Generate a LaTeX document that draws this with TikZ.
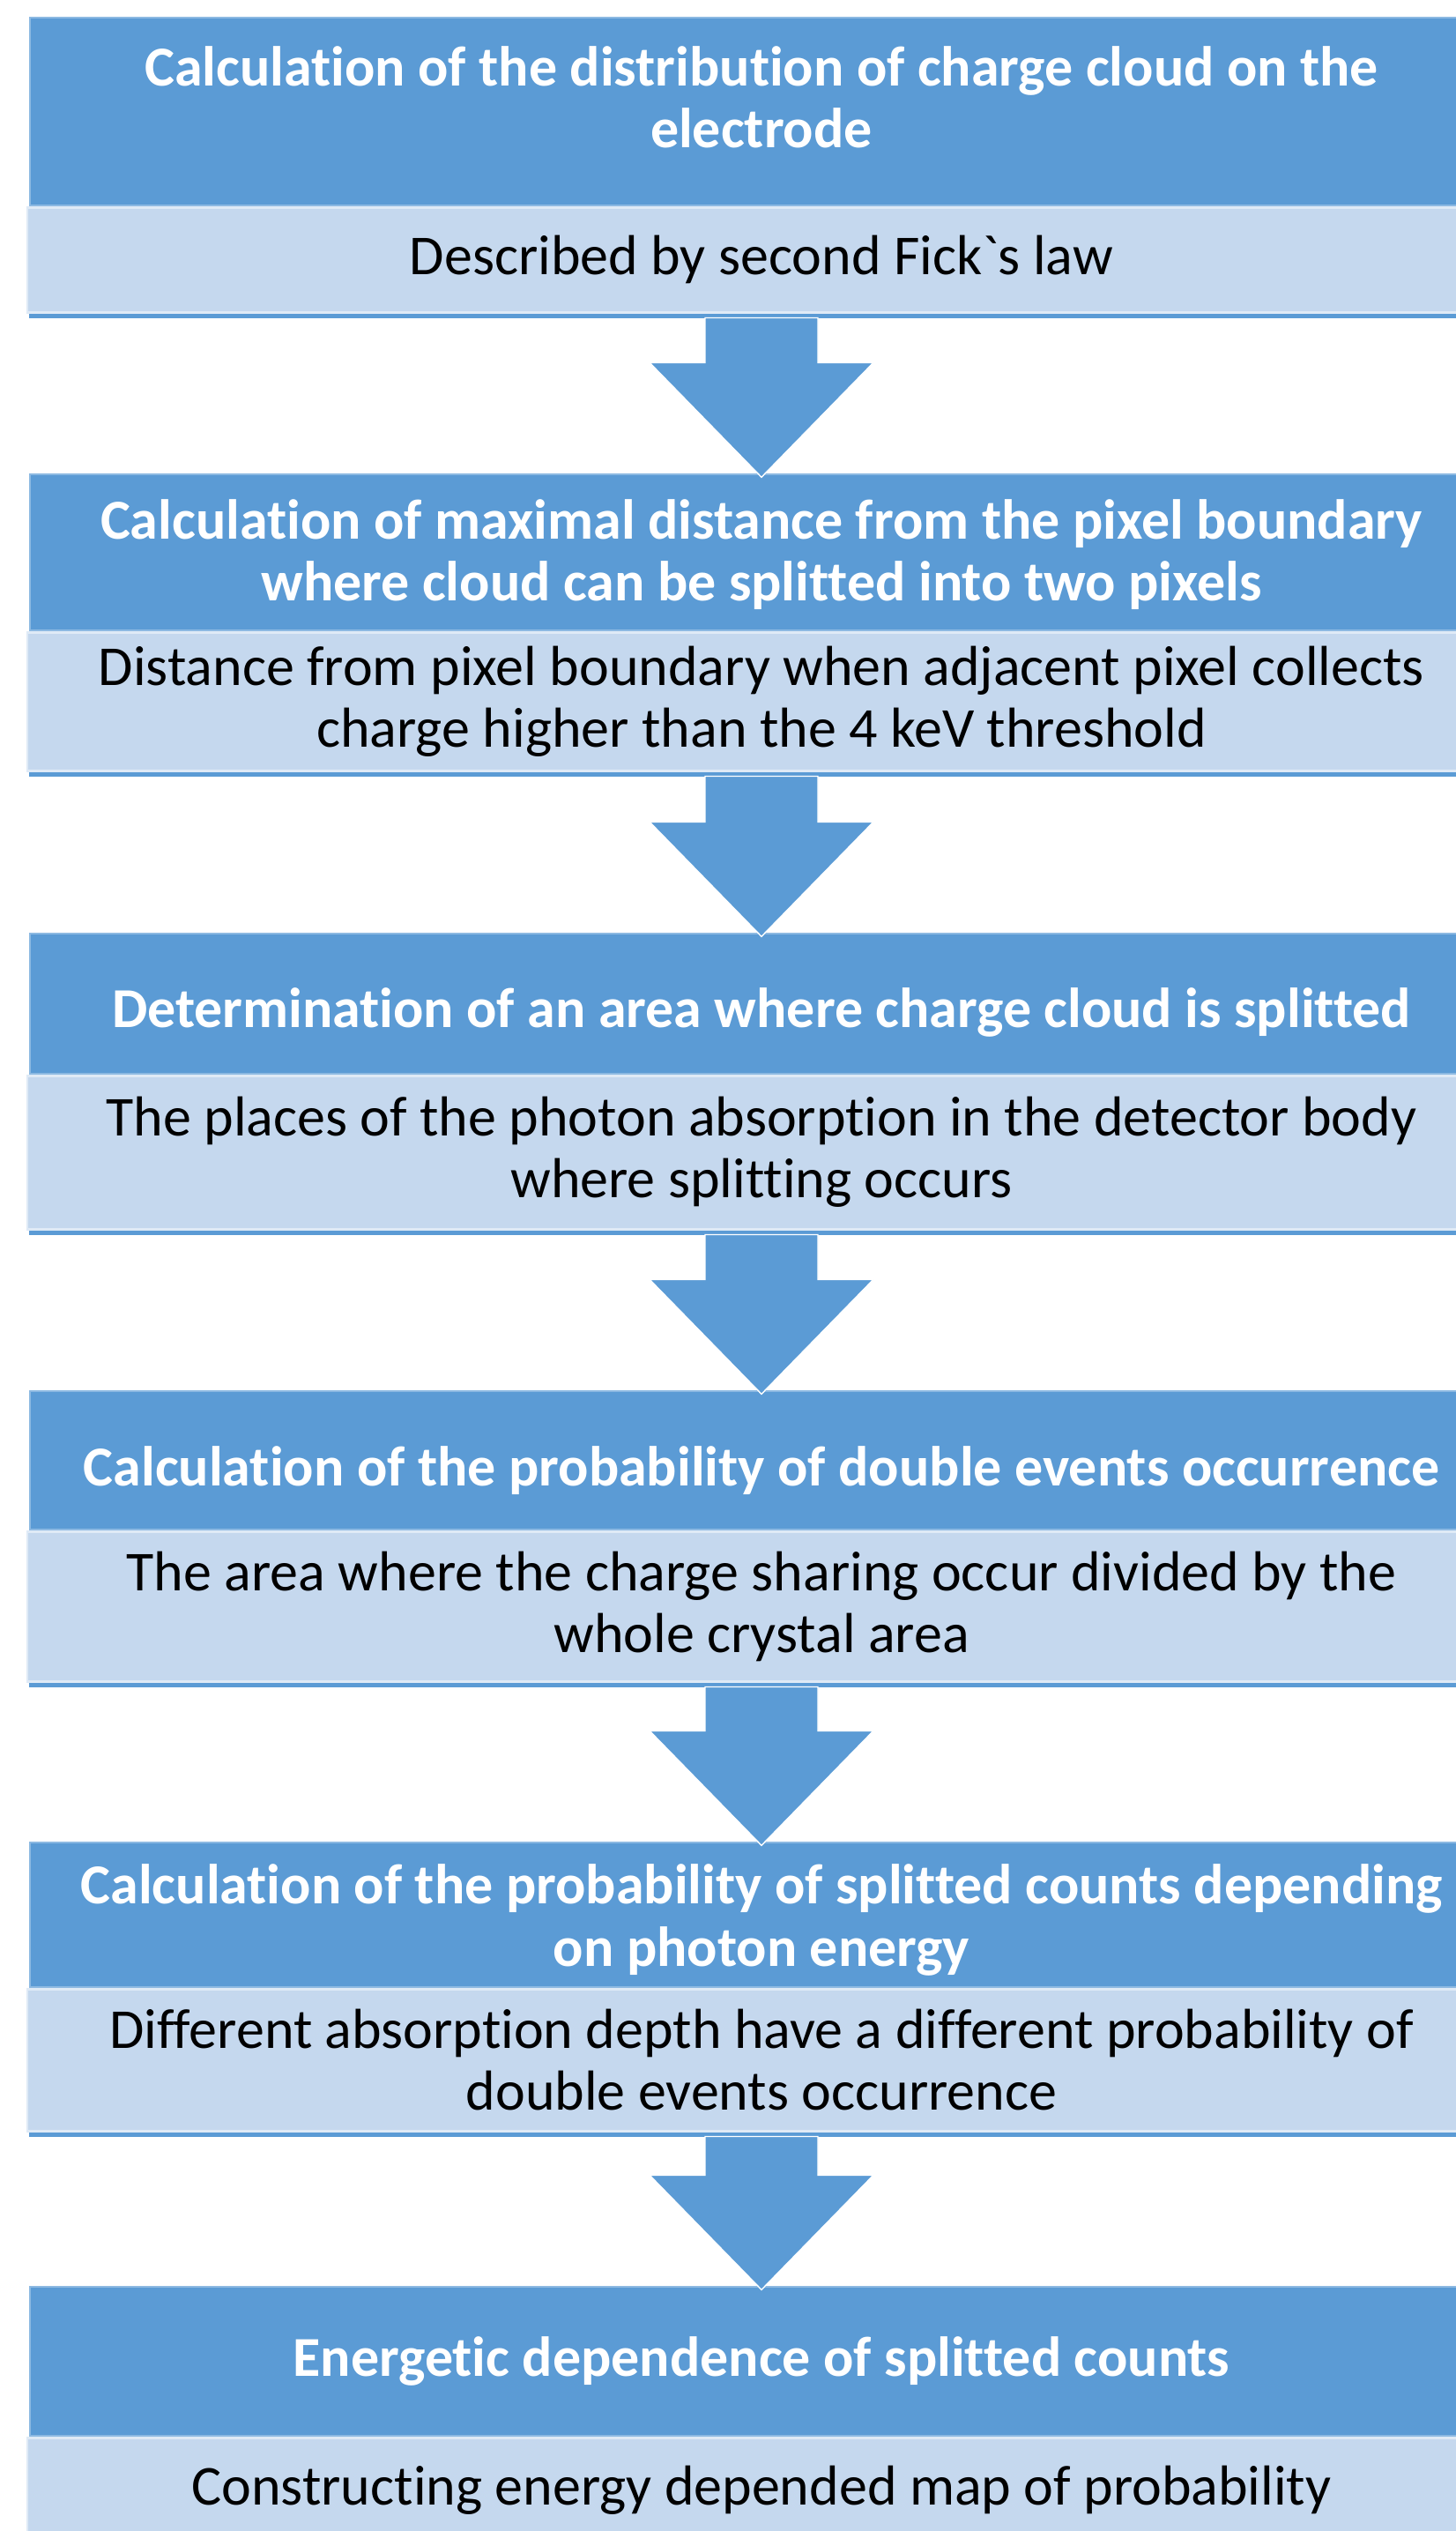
\documentclass[tikz,border=0pt]{standalone}
\usepackage{fontspec}
\setmainfont{Carlito}[Ligatures={NoCommon,NoContextual,NoRare},Contextuals=NoAlternate]
\usetikzlibrary{positioning,calc}
\definecolor{stephead}{HTML}{5B9BD5}
\definecolor{stepbody}{HTML}{C5D8EE}

\newcommand{\stepfont}{\fontsize{18.2pt}{20pt}\selectfont}
% heading text moved up or down inside its band
\newcommand{\headtext}[2]{%
  \raisebox{#1}[\height][\depth]{\begin{tabular}{@{}c@{}}#2\end{tabular}}}
% block arrow from the strip under one body box to the next heading
\newcommand{\flowarrow}[2]{%
  \fill[arrowfill] let \p1=(#1.south), \p2=(#2.north) in
    (\x1-0.64cm,\y1-0.05cm) -- (\x1+0.64cm,\y1-0.05cm) -- (\x1+0.64cm,\y2+1.26cm)
    -- (\x1+1.27cm,\y2+1.26cm) -- (\x1,\y2-0.04cm) -- (\x1-1.27cm,\y2+1.26cm)
    -- (\x1-0.64cm,\y2+1.26cm) -- cycle;}

\begin{document}
\begin{tikzpicture}[
    every node/.style={font=\stepfont,align=center,inner sep=0pt},
    headbox/.style={fill=stephead,draw=stephead!70!white,line width=0.4pt,
                    text=white,font=\stepfont\bfseries,minimum width=16.60cm},
    bodybox/.style={fill=stepbody,draw=stepbody!55!white,line width=0.8pt,
                    text=black,minimum width=16.66cm},
    arrowfill/.style={fill=stephead,draw=white,line width=0.4pt},
  ]
  \useasboundingbox (0,0) rectangle (16.52,-28.71);
  \clip (0,0) rectangle (16.52,-28.71);
  \fill[white] (0,0) rectangle (16.52,-28.71);

  \node[headbox,minimum height=2.13cm] (head1) at (8.64,-1.265)
    {\headtext{0.8mm}{Calculation of the distribution of charge cloud on the\\electrode}};
  \node[bodybox,minimum height=1.19cm,below=0pt of head1] (body1)
    {Described by second Fick\textasciigrave s law};

  \node[headbox,minimum height=1.77cm] (head2) at (8.64,-6.265)
    {\headtext{-0.6mm}{Calculation of maximal distance from the pixel boundary\\where cloud can be splitted into two pixels}};
  \node[bodybox,minimum height=1.57cm,below=0pt of head2] (body2)
    {Distance from pixel boundary when adjacent pixel collects\\charge higher than the 4 keV threshold};

  \node[headbox,minimum height=1.59cm] (head3) at (8.64,-11.385)
    {\headtext{-1.3mm}{Determination of an area where charge cloud is splitted}};
  \node[bodybox,minimum height=1.74cm,below=0pt of head3] (body3)
    {The places of the photon absorption in the detector body\\where splitting occurs};

  \node[headbox,minimum height=1.57cm] (head4) at (8.64,-16.565)
    {\headtext{-1.5mm}{Calculation of the probability of double events occurrence}};
  \node[bodybox,minimum height=1.70cm,below=0pt of head4] (body4)
    {The area where the charge sharing occur divided by the\\whole crystal area};

  \node[headbox,minimum height=1.64cm] (head5) at (8.64,-21.72)
    {\headtext{-0.9mm}{Calculation of the probability of splitted counts depending\\on photon energy}};
  \node[bodybox,minimum height=1.61cm,below=0pt of head5] (body5)
    {Different absorption depth have a different probability of\\double events occurrence};

  \node[headbox,minimum height=1.69cm] (head6) at (8.64,-26.785)
    {Energetic dependence of splitted counts};
  \node[bodybox,minimum height=1.19cm,below=0pt of head6] (body6)
    {Constructing energy depended map of probability};

  % dark edge showing under each body box
  \foreach \s in {1,...,5}
    \fill[stephead] ([xshift=0.03cm]body\s.south west) rectangle ([yshift=-0.05cm]body\s.south east);

  \flowarrow{body1}{head2}
  \flowarrow{body2}{head3}
  \flowarrow{body3}{head4}
  \flowarrow{body4}{head5}
  \flowarrow{body5}{head6}
\end{tikzpicture}
\end{document}
